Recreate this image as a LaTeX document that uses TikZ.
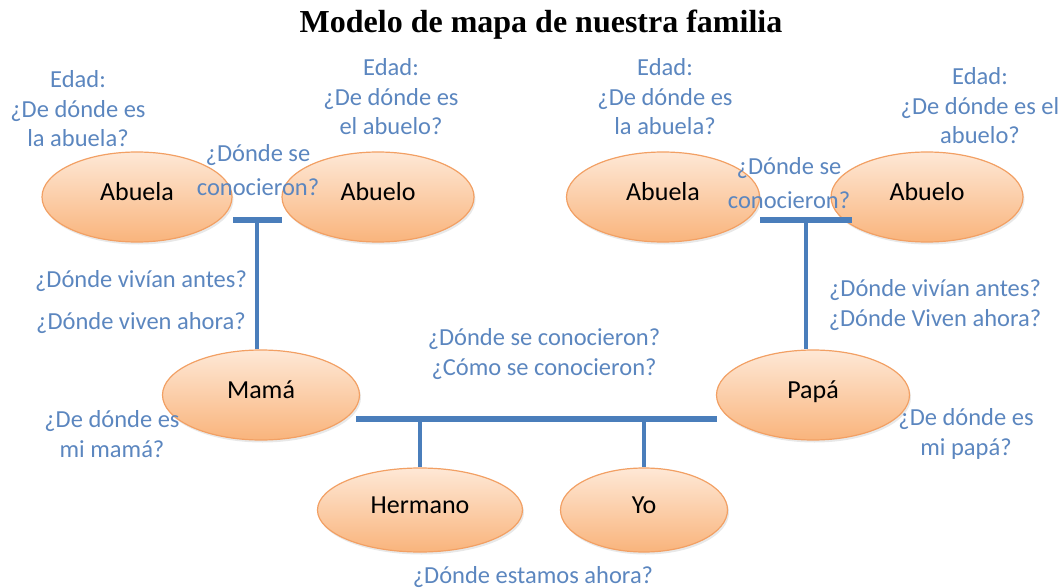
\documentclass[tikz,border=0pt]{standalone}
\usepackage{fontspec}
\setmainfont{Carlito}
\newfontfamily\titlefont{Liberation Serif}
\usetikzlibrary{shapes.geometric,shadows}
\definecolor{noteblue}{HTML}{5B86BF}
\definecolor{lineblue}{HTML}{4A7EBB}
\definecolor{pborder}{HTML}{F2A064}
\definecolor{ptop}{HTML}{FEE8D6}
\definecolor{pbottom}{HTML}{F9B47C}

\begin{document}
\begin{tikzpicture}[x=1pt,y=-1pt,
  person/.style={ellipse,draw=pborder,line width=1.2pt,top color=ptop,bottom color=pbottom,
    inner sep=0pt,font=\fontsize{26}{30}\selectfont,text height=0.92em,text depth=0.2em,
    drop shadow={opacity=0.18,shadow xshift=1.5pt,shadow yshift=-2.5pt}},
  note/.style={text=noteblue,align=center,inner sep=0pt,font=\fontsize{24.5}{29.5}\selectfont},
  link/.style={draw=lineblue,line width=4pt},
  bar/.style={draw=lineblue,line width=5.5pt}]
  \useasboundingbox (0,0) rectangle (1062,588);
  \node[font=\titlefont\bfseries\fontsize{32}{36}\selectfont] (title) at (541,25) {Modelo de mapa de nuestra familia};
  % abuelos
  \node[person,minimum width=190pt,minimum height=90pt] (abuelaL) at (137,197) {Abuela};
  \node[person,minimum width=192pt,minimum height=90pt] (abueloL) at (378,197) {Abuelo};
  \node[person,minimum width=193pt,minimum height=90pt] (abuelaR) at (663,197) {Abuela};
  \node[person,minimum width=192pt,minimum height=90pt] (abueloR) at (927,197) {Abuelo};
  % padres e hijos
  \node[person,minimum width=197pt,minimum height=90pt] (mama) at (261,395) {Mamá};
  \node[person,minimum width=193pt,minimum height=90pt] (papa) at (813,395) {Papá};
  \node[person,minimum width=205pt,minimum height=84pt] (hermano) at (420,510) {Hermano};
  \node[person,minimum width=167pt,minimum height=84pt] (yo) at (644,510) {Yo};
  % uniones
  \coordinate (barL1) at (233,220);
  \coordinate (barL2) at (282,220);
  \coordinate (jL) at (257,220);
  \coordinate (barR1) at (760,220);
  \coordinate (barR2) at (852,220);
  \coordinate (jR) at (806,220);
  \coordinate (barM1) at (356,419);
  \coordinate (barM2) at (717,419);
  \draw[bar] (barL1) -- (barL2);
  \draw[link] (jL) -- (jL |- mama.north);
  \draw[bar] (barR1) -- (barR2);
  \draw[link] (jR) -- (jR |- papa.north);
  \draw[bar,line width=6.5pt] (barM1) -- (barM2);
  \draw[link] (hermano.north |- barM1) -- (hermano.north);
  \draw[link] (yo.north |- barM1) -- (yo.north);
  % preguntas
  \node[note] (qAbuelaL) at (78,109) {Edad:\\¿De dónde es\\la abuela?};
  \node[note] (qAbueloL) at (391,97) {Edad:\\¿De dónde es\\el abuelo?};
  \node[note] (qMetL) at (258,170) {¿Dónde se\\[5pt]conocieron?};
  \node[note] (qAbuelaR) at (665,97) {Edad:\\¿De dónde es\\la abuela?};
  \node[note] (qAbueloR) at (980,106) {Edad:\\¿De dónde es el\\abuelo?};
  \node[note] (qMetR) at (789,183) {¿Dónde se\\[5pt]conocieron?};
  \node[note] (qLiveL) at (141,302) {¿Dónde vivían antes?\\[12pt]¿Dónde viven ahora?};
  \node[note] (qLiveR) at (935,305) {¿Dónde vivían antes?\\[1pt]¿Dónde Viven ahora?};
  \node[note] (qMet) at (544,354) {¿Dónde se conocieron?\\[1pt]¿Cómo se conocieron?};
  \node[note] (qMama) at (112,434) {¿De dónde es\\[1pt]mi mamá?};
  \node[note] (qPapa) at (966,434) {¿De dónde es\\[1pt]mi papá?};
  \node[note] (qNow) at (533,577) {¿Dónde estamos ahora?};
\end{tikzpicture}
\end{document}
